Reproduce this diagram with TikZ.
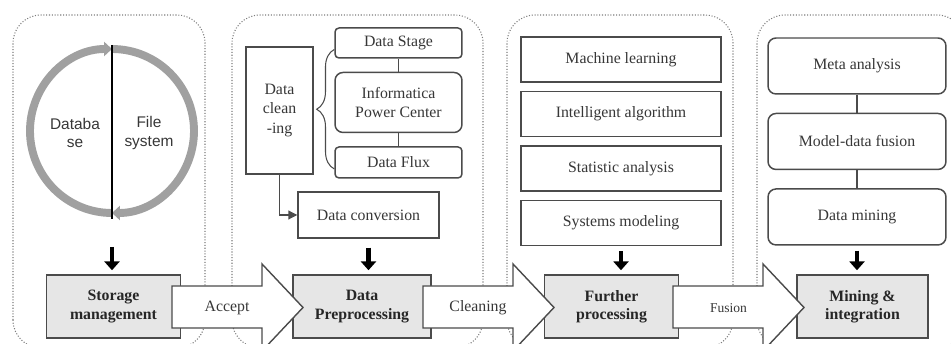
\documentclass[tikz,border=0pt]{standalone}
\usepackage{fontspec}
\setmainfont{Liberation Serif}
\setsansfont{Liberation Sans}
\usepackage{tikz}
\usetikzlibrary{arrows.meta,positioning,calc,decorations.pathreplacing}
\definecolor{inkgray}{RGB}{55,55,55}
\definecolor{edgegray}{RGB}{75,75,75}
\definecolor{ringgray}{RGB}{160,160,160}
\definecolor{boxfill}{RGB}{230,230,230}
\definecolor{panelgray}{RGB}{125,125,125}

\begin{document}
\begin{tikzpicture}[x=0.02cm,y=0.02cm,
    panel/.style={draw=panelgray,densely dotted,line width=0.6pt,rounded corners=0.56cm},
    stepbox/.style={draw=edgegray,line width=0.85pt,fill=boxfill,minimum width=2.68cm,minimum height=1.26cm,
        align=center,font=\fontsize{9}{10.5}\selectfont\bfseries,text=black!85},
    itembox/.style={draw=edgegray,line width=0.85pt,fill=white,align=center,inner sep=2pt,
        font=\fontsize{9}{11}\selectfont,text=inkgray},
    blockarr/.style={draw=edgegray,line width=0.8pt,fill=white},
    arrlabel/.style={font=\fontsize{9}{11}\selectfont,text=inkgray},
    downarr/.style={line width=2.8pt,-{Triangle[length=5pt,width=8.5pt]}},
    ringarr/.style={draw=ringgray,line width=4.5pt,-{Triangle[length=4.5pt,width=8pt]}},
    link/.style={draw=edgegray,line width=0.6pt}]
    \useasboundingbox (0,0) rectangle (951,344);
    \clip (0,0) rectangle (951,344);

    % dotted panels
    \draw[panel] (13,-4) rectangle (205,329);
    \draw[panel] (232,-4) rectangle (483,329);
    \draw[panel] (507,-4) rectangle (733,329);
    \draw[panel] (757,-4) rectangle (965,329);

    % bottom row
    \node[stepbox] (store) at (113.5,37.5) {Storage\\management};
    \node[stepbox,minimum width=2.76cm] (prep) at (362,37.5) {Data\\Preprocessing};
    \node[stepbox] (further) at (611.5,37.5) {Further\\processing};
    \node[stepbox,minimum width=2.62cm] (mining) at (862.5,37.5) {Mining \&\\integration};

    % block arrows between the stages
    \draw[blockarr] (172,16) -- (262,16) -- (262,-7) -- (303,36.5) -- (262,80) -- (262,58) -- (172,58) -- cycle;
    \node[arrlabel] (accept) at (227,36) {Accept};
    \draw[blockarr] (423,16) -- (513,16) -- (513,-7) -- (554,36.5) -- (513,80) -- (513,58) -- (423,58) -- cycle;
    \node[arrlabel] (cleaning) at (478,36) {Cleaning};
    \draw[blockarr] (673,16) -- (763,16) -- (763,-7) -- (804,36.5) -- (763,80) -- (763,58) -- (673,58) -- cycle;
    \node[arrlabel,font=\fontsize{7.7}{9}\selectfont] (fusion) at (728.5,36) {Fusion};

    % storage ring
    \draw[ringarr] (112,131) arc[start angle=270,end angle=90,radius=82];
    \draw[ringarr] (112,295) arc[start angle=90,end angle=-90,radius=82];
    \draw[line width=1.4pt] (112,299) -- (112,125);
    \node[font=\sffamily\fontsize{8.8}{10.5}\selectfont,text=inkgray,align=center] (dbase) at (75,211) {Databa\\se};
    \node[font=\sffamily\fontsize{8.8}{10.5}\selectfont,text=inkgray,align=center] (fsys) at (149,211) {File\\system};
    \coordinate (ringbot) at (112,127);
    \draw[downarr,shorten <=0.6cm,shorten >=0.08cm] (ringbot) -- (ringbot |- store.north);

    % preprocessing
    \node[itembox,minimum width=1.34cm,minimum height=2.54cm] (dclean) at (279.5,233.5) {Data\\clean\\-ing};
    \node[itembox,rounded corners=0.08cm,minimum width=2.54cm,minimum height=0.6cm] (stage) at (398.5,301) {Data Stage};
    \node[itembox,rounded corners=0.16cm,minimum width=2.54cm,minimum height=1.2cm,below=0.26cm of stage] (infa) {Informatica\\Power Center};
    \node[itembox,rounded corners=0.08cm,minimum width=2.54cm,minimum height=0.62cm,below=0.26cm of infa] (flux) {Data Flux};
    \draw[link] (stage) -- (infa);
    \draw[link] (infa) -- (flux);
    \draw[link,decorate,decoration={brace,amplitude=10pt}] ([yshift=-0.13cm]flux.west) -- ([yshift=-0.13cm]stage.west);
    \node[itembox,minimum width=2.82cm,minimum height=0.92cm] (conv) at (368.5,129) {Data conversion};
    \draw[link,-{Triangle[length=5pt,width=5pt]}] (dclean.south) |- (conv.west);
    \draw[downarr,shorten <=0.18cm,shorten >=0.08cm] (conv.south) -- (conv.south |- prep.north);

    % further processing
    \node[itembox,minimum width=4cm,minimum height=0.9cm] (ml) at (621,284.5) {Machine learning};
    \node[itembox,minimum width=4cm,minimum height=0.9cm,below=0.16cm of ml] (ia) {Intelligent algorithm};
    \node[itembox,minimum width=4cm,minimum height=0.9cm,below=0.16cm of ia] (sa) {Statistic analysis};
    \node[itembox,minimum width=4cm,minimum height=0.9cm,below=0.16cm of sa] (sm) {Systems modeling};
    \draw[downarr,shorten <=0.1cm,shorten >=0.08cm] (sm.south) -- (sm.south |- further.north);

    % mining and integration
    \node[itembox,rounded corners=0.16cm,minimum width=3.56cm,minimum height=1.12cm] (meta) at (857,278) {Meta analysis};
    \node[itembox,rounded corners=0.16cm,minimum width=3.56cm,minimum height=1.12cm,below=0.36cm of meta] (mdf) {Model-data fusion};
    \node[itembox,rounded corners=0.16cm,minimum width=3.56cm,minimum height=1.12cm,below=0.36cm of mdf] (dmine) {Data mining};
    \draw[link] (meta) -- (mdf);
    \draw[link] (mdf) -- (dmine);
    \draw[downarr,shorten <=0.1cm,shorten >=0.08cm] (dmine.south) -- (dmine.south |- mining.north);
\end{tikzpicture}
\end{document}
